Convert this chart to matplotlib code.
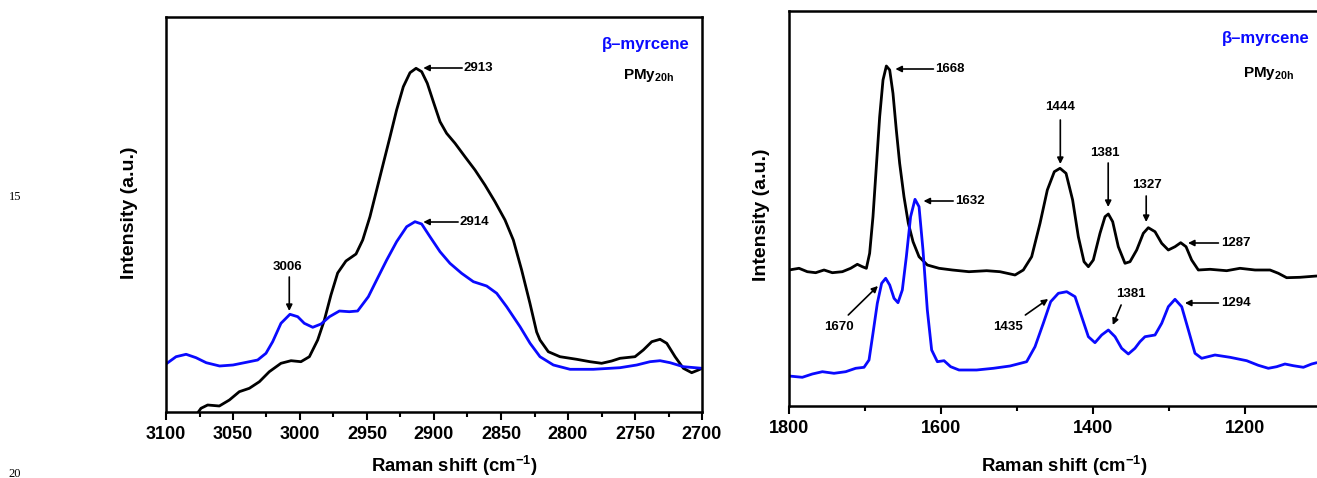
import matplotlib
matplotlib.use("Agg")
import matplotlib.pyplot as plt
from matplotlib.ticker import MultipleLocator

plt.rcParams['font.family'] = ['Liberation Sans', 'DejaVu Sans']
plt.rcParams['font.weight'] = 'bold'
plt.rcParams['mathtext.fontset'] = 'custom'
plt.rcParams['mathtext.rm'] = 'Liberation Sans:bold'
plt.rcParams['mathtext.bf'] = 'Liberation Sans:bold'
plt.rcParams['mathtext.it'] = 'Liberation Sans:bold'

BLUE = '#0a0aff'

# ---------------- Left panel data (C-H stretching region) ----------------
left_pmy_x = [3076.4, 3073.9, 3068.9, 3060.2, 3052.7, 3045.3, 3037.8, 3030.3, 3022.9, 3014.2,
              3006.7, 2999.3, 2993.0, 2986.8, 2981.8, 2976.9, 2971.9, 2965.7, 2958.2, 2953.2,
              2947.8, 2942.8, 2937.8, 2932.8, 2927.9, 2922.9, 2917.9, 2913.4, 2909.2, 2905.0,
              2900.5, 2895.5, 2890.6, 2884.3, 2876.9, 2869.4, 2862.0, 2854.5, 2847.0, 2840.8,
              2834.6, 2828.4, 2823.4, 2820.9, 2814.7, 2806.0, 2793.5, 2783.6, 2774.9, 2767.4,
              2761.2, 2750.0, 2743.8, 2737.5, 2731.3, 2726.3, 2720.1, 2713.9, 2707.7, 2702.7,
              2700.0]
left_pmy_y = [-1.0, 3.7, 7.0, 6.0, 12.0, 20.3, 23.7, 30.3, 40.3, 48.7,
              51.3, 50.3, 55.3, 72.0, 92.0, 117.0, 139.0, 151.0, 158.0, 172.0,
              195.3, 222.0, 248.7, 275.3, 302.0, 325.3, 339.3, 343.7, 340.3, 328.7,
              310.3, 290.3, 278.7, 268.7, 255.3, 242.0, 227.0, 210.3, 192.0, 172.0,
              142.0, 108.7, 80.0, 72.0, 60.3, 55.3, 52.7, 50.3, 48.7, 51.0,
              53.7, 55.3, 62.0, 70.3, 72.7, 68.7, 55.3, 43.7, 39.3, 42.0,
              43.7]

left_myr_x = [3100.0, 3092.5, 3085.0, 3077.6, 3070.0, 3060.0, 3050.0, 3040.0, 3031.6, 3025.4,
              3020.4, 3014.2, 3007.5, 3001.7, 2996.8, 2990.5, 2984.3, 2978.0, 2970.6, 2963.2,
              2957.0, 2949.0, 2942.8, 2935.3, 2927.9, 2920.4, 2914.2, 2909.2, 2903.0, 2895.5,
              2888.1, 2879.4, 2870.6, 2860.7, 2853.2, 2845.8, 2835.8, 2828.3, 2820.9, 2810.9,
              2798.5, 2781.1, 2761.2, 2748.7, 2738.8, 2731.3, 2723.8, 2713.9, 2700.0]
left_myr_y = [48.0, 55.3, 57.7, 54.3, 49.3, 46.0, 47.0, 49.7, 52.0, 58.7,
              70.3, 88.7, 97.7, 95.3, 88.7, 84.7, 88.0, 95.3, 101.0, 100.3,
              101.0, 115.3, 132.0, 152.0, 170.3, 185.3, 190.3, 188.0, 175.3, 160.3,
              148.7, 138.7, 130.3, 126.0, 118.7, 105.3, 85.3, 68.7, 55.3, 47.0,
              42.7, 42.7, 44.3, 47.0, 50.3, 51.3, 49.3, 45.3, 43.7]

left_ticks = [3100, 3050, 3000, 2950, 2900, 2850, 2800, 2750, 2700]

# ---------------- Right panel data (fingerprint region) ----------------
right_pmy_x = [1800.0, 1786.8, 1775.9, 1764.9, 1753.9, 1743.0, 1729.8, 1718.9, 1710.1, 1703.5,
               1698.2, 1693.9, 1689.5, 1685.1, 1680.7, 1676.3, 1671.9, 1667.5, 1663.2, 1658.8,
               1654.4, 1648.7, 1643.0, 1636.8, 1628.9, 1618.0, 1602.6, 1585.1, 1563.2, 1539.9,
               1522.4, 1502.6, 1491.7, 1480.7, 1469.7, 1460.1, 1450.9, 1443.4, 1435.5, 1426.8,
               1419.3, 1411.8, 1406.1, 1399.6, 1390.8, 1384.2, 1379.8, 1374.1, 1366.7, 1357.9,
               1351.3, 1342.5, 1333.8, 1327.2, 1318.4, 1309.6, 1300.9, 1292.1, 1284.6, 1277.6,
               1270.2, 1261.4, 1246.0, 1224.1, 1206.6, 1186.8, 1167.1, 1156.1, 1145.2, 1127.6,
               1105.7]
right_pmy_y = [136.0, 137.7, 134.3, 133.3, 136.0, 133.3, 134.3, 137.7, 141.7, 139.3,
               137.7, 152.7, 189.3, 239.3, 289.3, 326.0, 340.0, 336.0, 312.7, 276.0,
               242.7, 209.3, 182.7, 164.3, 149.3, 141.0, 137.7, 136.0, 134.3, 135.3,
               134.3, 131.0, 136.0, 149.3, 182.7, 216.0, 234.3, 237.7, 232.7, 206.0,
               169.3, 144.3, 139.3, 146.0, 172.7, 189.3, 192.0, 184.3, 159.3, 142.7,
               144.3, 156.0, 172.7, 178.3, 174.3, 162.7, 156.0, 159.3, 163.3, 159.3,
               146.0, 136.0, 136.7, 135.3, 137.7, 136.0, 136.0, 132.7, 128.3, 128.7,
               130.0]

right_myr_x = [1800.0, 1782.5, 1769.3, 1756.1, 1740.8, 1725.4, 1712.3, 1701.3, 1694.7, 1689.5,
               1683.8, 1678.1, 1672.8, 1667.5, 1661.8, 1656.6, 1650.9, 1645.6, 1640.0, 1634.2,
               1628.9, 1623.7, 1618.0, 1612.3, 1604.8, 1596.0, 1587.3, 1576.3, 1563.2, 1553.1,
               1531.1, 1509.2, 1487.3, 1476.3, 1465.4, 1455.7, 1445.6, 1434.6, 1423.6, 1414.9,
               1406.1, 1397.4, 1388.6, 1379.8, 1371.0, 1362.3, 1353.5, 1344.8, 1338.2, 1331.6,
               1318.4, 1309.6, 1300.9, 1292.1, 1283.3, 1274.5, 1265.8, 1257.0, 1239.5, 1219.7,
               1197.8, 1182.5, 1169.3, 1158.3, 1147.4, 1136.4, 1123.2, 1112.3, 1105.7]
right_myr_y = [30.0, 28.7, 32.0, 34.3, 32.7, 34.3, 37.7, 38.7, 46.0, 72.7,
               102.7, 122.7, 127.7, 121.0, 107.7, 103.3, 116.0, 149.3, 189.3, 206.7,
               199.3, 156.0, 96.0, 56.0, 44.3, 45.3, 39.3, 36.0, 36.0, 36.0,
               37.7, 40.0, 44.3, 59.3, 82.7, 104.3, 112.7, 114.3, 109.3, 89.3,
               69.3, 63.3, 71.0, 76.0, 69.3, 57.7, 52.0, 57.7, 64.3, 69.3,
               71.0, 82.7, 99.3, 106.7, 99.3, 76.0, 52.7, 47.7, 51.0, 48.7,
               45.3, 40.7, 37.7, 39.3, 42.0, 40.3, 38.7, 42.0, 43.3]

right_ticks = [1800, 1600, 1400, 1200]

# peak labels
left_labels = ['2913', '2914', '3006']
right_labels = ['1668', '1632', '1670', '1435', '1444', '1381', '1327', '1287', '1381', '1294']

W, H = 1317, 478
fig = plt.figure(figsize=(W / 100, H / 100), dpi=100)
fig.patch.set_facecolor('white')


def style_axes(ax):
    for s in ax.spines.values():
        s.set_linewidth(1.8)
    ax.tick_params(axis='x', which='major', direction='out', length=6, width=1.5,
                   labelsize=13, pad=4)
    ax.tick_params(axis='x', which='minor', direction='out', length=3.5, width=1.5)
    ax.set_yticks([])
    for lab in ax.get_xticklabels():
        lab.set_fontweight('bold')


def arrow(ax, tail, head):
    ax.annotate('', xy=head, xytext=tail,
                arrowprops=dict(arrowstyle='-|>', color='black', lw=1.2,
                                mutation_scale=9, shrinkA=0, shrinkB=0))


line_kw = dict(lw=2.0, solid_joinstyle='round', solid_capstyle='round')

# ---------- Left axes ----------
axL = fig.add_axes([166 / W, (H - 412) / H, 536 / W, 395 / H])
axL.plot(left_pmy_x, left_pmy_y, color='black', **line_kw)
axL.plot(left_myr_x, left_myr_y, color=BLUE, **line_kw)
axL.set_xlim(3100, 2700)
axL.set_ylim(0, 395)
axL.set_xticks(left_ticks)
axL.xaxis.set_minor_locator(MultipleLocator(25))
style_axes(axL)

fs_ann = 9.5
arrow(axL, (2879, 344), (2908, 344))
axL.text(2878, 344, left_labels[0], fontsize=fs_ann, fontweight='bold', va='center', ha='left')
arrow(axL, (2882, 190), (2908, 190))
axL.text(2881, 190, left_labels[1], fontsize=fs_ann, fontweight='bold', va='center', ha='left')
arrow(axL, (3008, 135), (3008, 101))
axL.text(3009, 145, left_labels[2], fontsize=fs_ann, fontweight='bold', va='center', ha='center')

axL.text(2775, 368, 'β–myrcene', color=BLUE, fontsize=12, fontweight='bold', va='center', ha='left')
axL.text(2759, 337, r'PMy$_{\mathbf{20h}}$', color='black', fontsize=11, fontweight='bold',
         va='center', ha='left')

# ---------- Right axes (extends past figure edge) ----------
axR = fig.add_axes([789 / W, (H - 406) / H, 608 / W, 395 / H])
axR.plot(right_pmy_x, right_pmy_y, color='black', **line_kw)
axR.plot(right_myr_x, right_myr_y, color=BLUE, **line_kw)
axR.set_xlim(1800, 1000)
axR.set_ylim(0, 395)
axR.set_xticks(right_ticks)
axR.xaxis.set_minor_locator(MultipleLocator(100))
style_axes(axR)
axR.spines['right'].set_visible(False)

arrow(axR, (1610, 337), (1660, 337))
axR.text(1608, 337, right_labels[0], fontsize=fs_ann, fontweight='bold', va='center', ha='left')
arrow(axR, (1584, 205), (1623, 205))
axR.text(1581, 205, right_labels[1], fontsize=fs_ann, fontweight='bold', va='center', ha='left')
arrow(axR, (1722, 91), (1683, 120))
axR.text(1734, 79, right_labels[2], fontsize=fs_ann, fontweight='bold', va='center', ha='center')
arrow(axR, (1489, 91), (1459, 107))
axR.text(1512, 79, right_labels[3], fontsize=fs_ann, fontweight='bold', va='center', ha='center')
arrow(axR, (1443, 286), (1443, 242))
axR.text(1443, 299, right_labels[4], fontsize=fs_ann, fontweight='bold', va='center', ha='center')
arrow(axR, (1380, 243), (1380, 199))
axR.text(1385, 253, right_labels[5], fontsize=fs_ann, fontweight='bold', va='center', ha='center')
arrow(axR, (1330, 210), (1330, 184))
axR.text(1329, 221, right_labels[6], fontsize=fs_ann, fontweight='bold', va='center', ha='center')
arrow(axR, (1235, 163), (1275, 163))
axR.text(1232, 163, right_labels[7], fontsize=fs_ann, fontweight='bold', va='center', ha='left')
arrow(axR, (1363, 101), (1374, 81))
axR.text(1350, 112, right_labels[8], fontsize=fs_ann, fontweight='bold', va='center', ha='center')
arrow(axR, (1235, 103), (1279, 103))
axR.text(1232, 103, right_labels[9], fontsize=fs_ann, fontweight='bold', va='center', ha='left')

axR.text(1230, 367, 'β–myrcene', color=BLUE, fontsize=12, fontweight='bold', va='center', ha='left')
axR.text(1202, 332, r'PMy$_{\mathbf{20h}}$', color='black', fontsize=11, fontweight='bold',
         va='center', ha='left')

# axis titles
fig.text(130 / W, 1 - 213 / H, 'Intensity (a.u.)', fontsize=14, fontweight='bold',
         rotation=90, ha='center', va='center')
fig.text(761 / W, 1 - 215 / H, 'Intensity (a.u.)', fontsize=14, fontweight='bold',
         rotation=90, ha='center', va='center')
fig.text(454 / W, 1 - 466 / H, 'Raman shift (cm$^{-1}$)', fontsize=13.3, fontweight='bold',
         ha='center', va='center')
fig.text(1064 / W, 1 - 466 / H, 'Raman shift (cm$^{-1}$)', fontsize=13.3, fontweight='bold',
         ha='center', va='center')

# page line numbers
fig.text(15 / W, 1 - 197 / H, '15', fontsize=9, family='Liberation Serif', fontweight='normal',
         ha='center', va='center')
fig.text(15 / W, 1 - 474 / H, '20', fontsize=9, family='Liberation Serif', fontweight='normal',
         ha='center', va='center')

fig.savefig('out.png', dpi=100, facecolor='white')
